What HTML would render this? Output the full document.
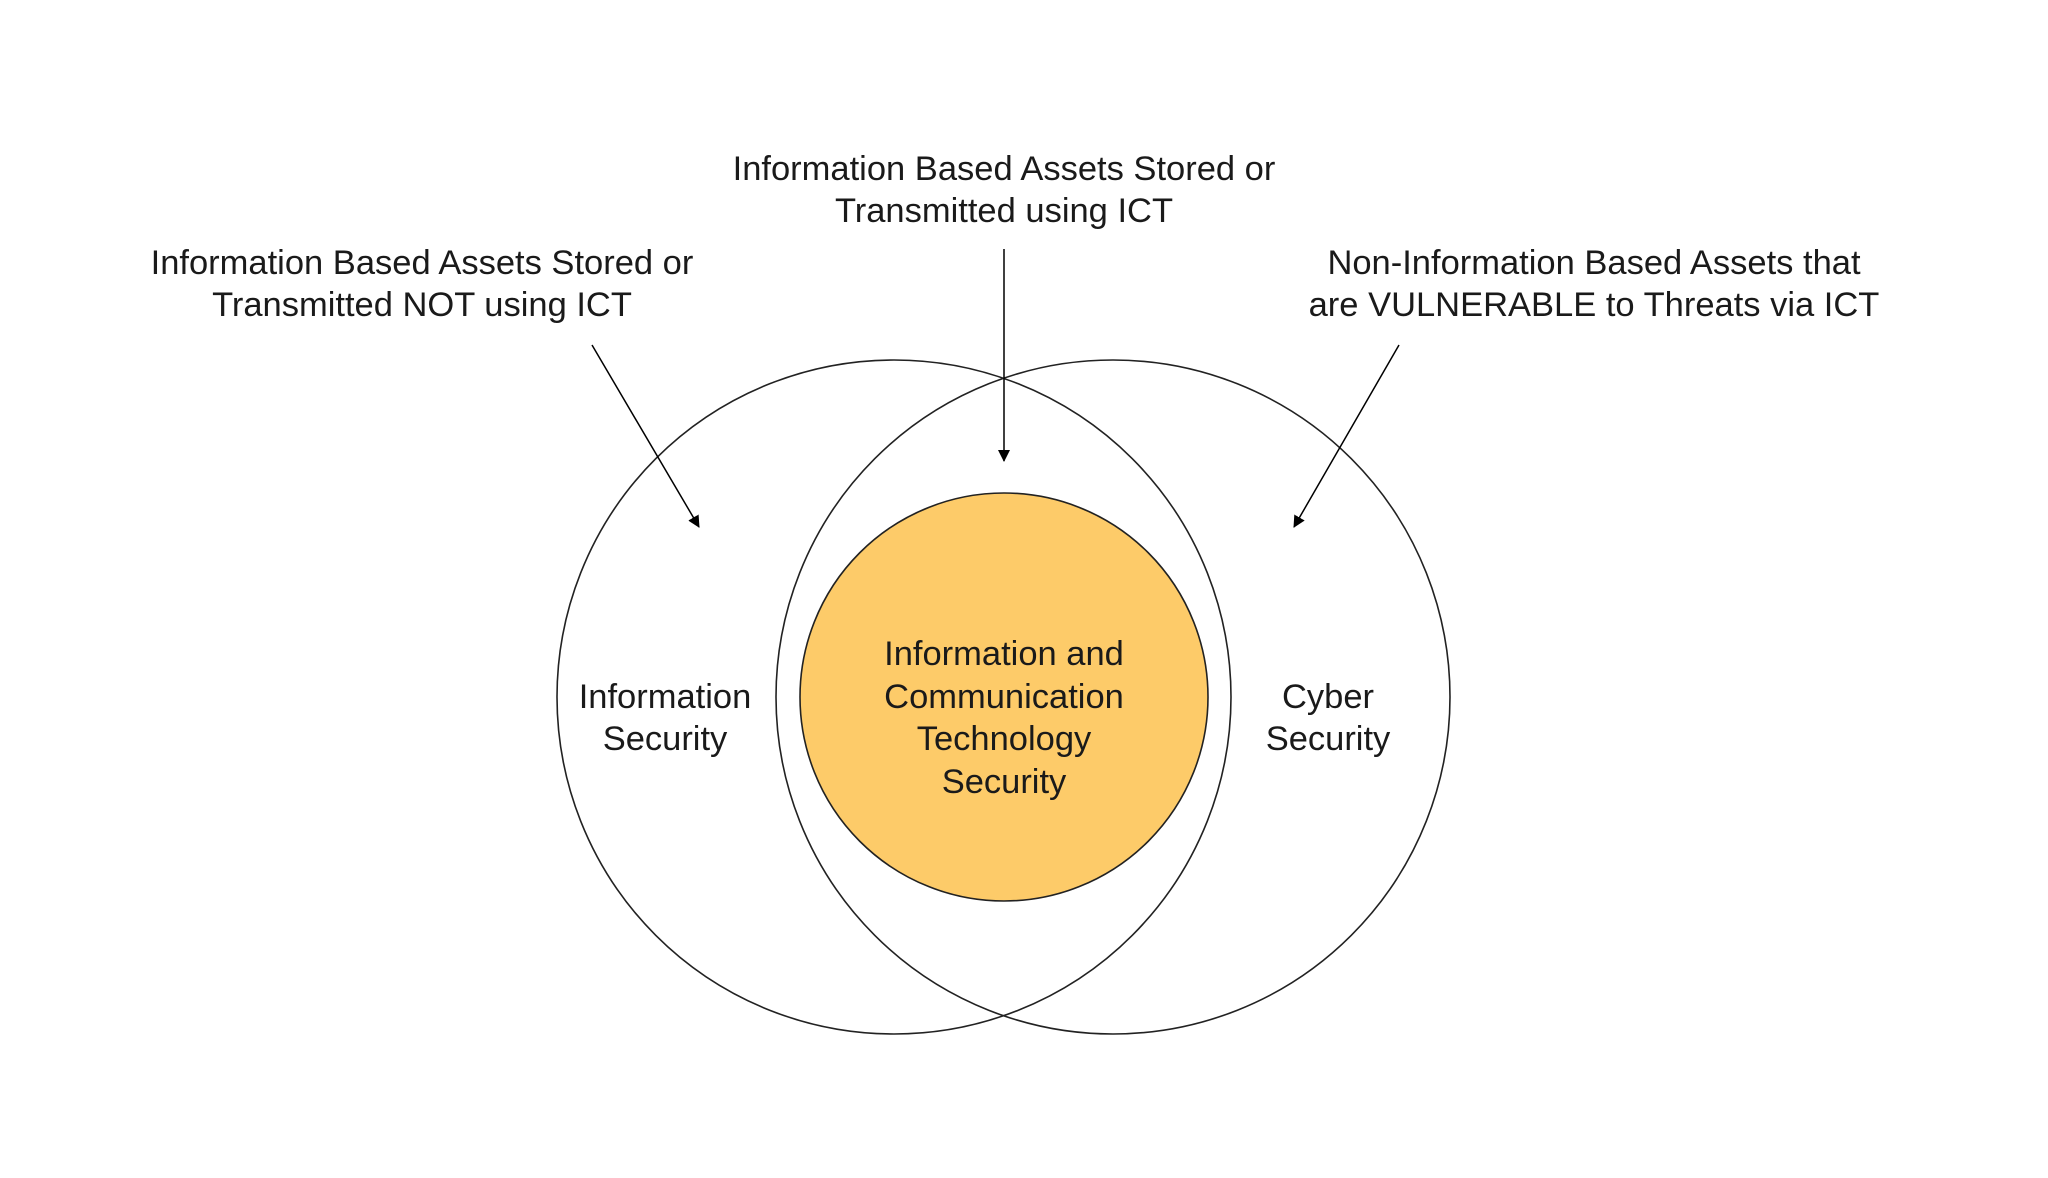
<!DOCTYPE html>
<html><head><meta charset="utf-8"><style>
html,body{margin:0;padding:0;background:#fff;}
svg{display:block;}
text{font-family:"Liberation Sans",sans-serif;font-size:34.5px;fill:#1a1a1a;text-anchor:middle;dominant-baseline:central;}
</style></head><body>
<svg width="2048" height="1178" viewBox="0 0 2048 1178" xmlns="http://www.w3.org/2000/svg">
<defs><marker id="a" markerWidth="12" markerHeight="12" refX="11" refY="6" orient="auto" markerUnits="userSpaceOnUse"><path d="M0,0 L12,6 L0,12 z" fill="#000"/></marker></defs>
<circle cx="894" cy="697" r="337" fill="none" stroke="#222" stroke-width="1.6"/>
<circle cx="1113" cy="697" r="337" fill="none" stroke="#222" stroke-width="1.6"/>
<circle cx="1004" cy="697" r="204" fill="#fdcb69" stroke="#222" stroke-width="1.6"/>
<line x1="1004" y1="249" x2="1004" y2="461" stroke="#000" stroke-width="1.5" marker-end="url(#a)"/>
<line x1="592" y1="345" x2="699" y2="527" stroke="#000" stroke-width="1.5" marker-end="url(#a)"/>
<line x1="1399" y1="345" x2="1294" y2="527" stroke="#000" stroke-width="1.5" marker-end="url(#a)"/>
<text x="1004" y="169">Information Based Assets Stored or</text>
<text x="1004" y="211">Transmitted using ICT</text>
<text x="422" y="263">Information Based Assets Stored or</text>
<text x="422" y="305">Transmitted NOT using ICT</text>
<text x="1594" y="263">Non-Information Based Assets that</text>
<text x="1594" y="305">are VULNERABLE to Threats via ICT</text>
<text x="665" y="697">Information</text>
<text x="665" y="739">Security</text>
<text x="1328" y="697">Cyber</text>
<text x="1328" y="739">Security</text>
<text x="1004" y="654">Information and</text>
<text x="1004" y="697">Communication</text>
<text x="1004" y="739">Technology</text>
<text x="1004" y="782">Security</text>
</svg>
</body></html>
